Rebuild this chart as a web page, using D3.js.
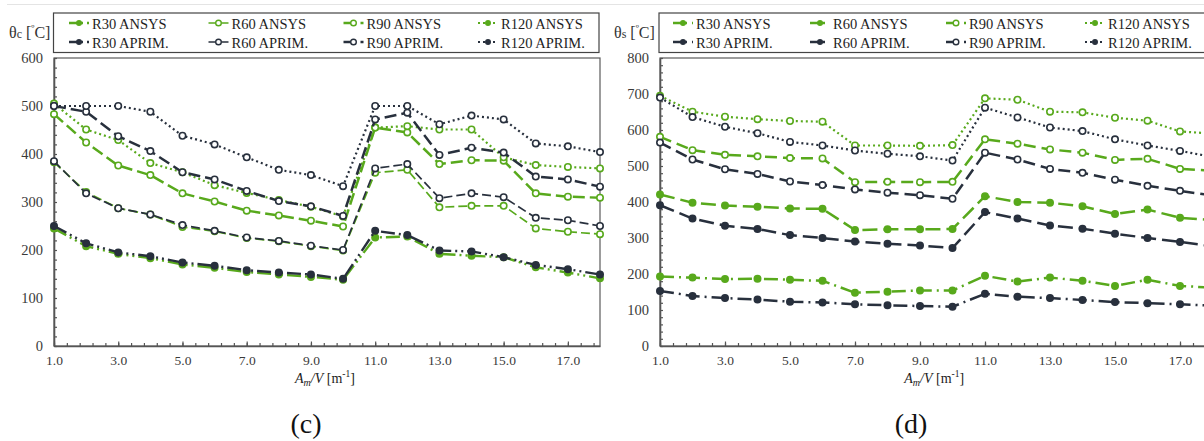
<!DOCTYPE html>
<html><head><meta charset="utf-8">
<script src="https://cdn.jsdelivr.net/npm/d3@7/dist/d3.min.js"></script>
<style>
body{margin:0;background:#fff}
svg{display:block}
text{font-family:"Liberation Serif","Times New Roman",serif}
</style>
</head><body>
<svg id="chart" width="1204" height="441"></svg>
<script>
// ---------- data ----------
const xValues = [1,2,3,4,5,6,7,8,9,10,11,12,13,14,15,16,17,18];
const xTickValues = [1,3,5,7,9,11,13,15,17];
const xTickLabels = ["1.0","3.0","5.0","7.0","9.0","11.0","13.0","15.0","17.0"];
const yTicksC = [0,100,200,300,400,500,600];
const yTicksS = [0,100,200,300,400,500,600,700,800];
const seriesKeys = ["R30","R60","R90","R120"];
const legendLabels = ["R30 ANSYS","R60 ANSYS","R90 ANSYS","R120 ANSYS","R30 APRIM.","R60 APRIM.","R90 APRIM.","R120 APRIM."];

// (c) theta_c
const cR30Ansys  = [245,208,192,183,170,163,154,149,144,138,226,228,192,188,185,164,153,141];
const cR60Ansys  = [383,321,287,274,248,239,225,218,208,199,361,367,289,292,292,245,238,233];
const cR90Ansys  = [483,424,376,356,318,301,282,272,261,249,455,445,379,387,386,318,311,309];
const cR120Ansys = [505,451,429,381,362,335,319,304,290,270,455,458,451,451,393,377,373,370];
const cR30Aprim  = [250,214,195,187,174,167,158,153,149,140,240,231,199,197,185,169,160,149];
const cR60Aprim  = [385,318,287,274,252,240,226,219,209,200,370,379,308,318,310,267,262,250];
const cR90Aprim  = [500,488,437,406,362,347,323,302,291,271,472,486,398,413,403,353,347,332];
const cR120Aprim = [500,500,500,488,438,420,393,367,356,333,500,500,462,480,472,422,416,404];

// (d) theta_s
const sR30Ansys  = [193,190,186,187,184,181,148,151,154,154,195,179,190,181,167,184,167,162];
const sR60Ansys  = [421,398,390,387,382,381,322,324,324,325,416,400,398,388,367,379,356,350];
const sR90Ansys  = [581,544,531,527,522,521,455,456,455,456,574,562,546,537,517,520,492,487];
const sR120Ansys = [695,651,637,630,625,623,557,557,556,558,688,684,651,649,634,626,596,590];
const sR30Aprim  = [153,139,133,129,123,121,116,113,111,109,145,137,133,128,122,119,116,112];
const sR60Aprim  = [391,354,334,325,308,300,290,284,279,272,372,354,335,326,312,300,289,277];
const sR90Aprim  = [565,518,491,478,457,447,435,426,419,409,537,518,492,481,462,445,431,418];
const sR120Aprim = [690,636,609,591,567,557,543,534,527,515,662,635,607,597,574,557,542,525];

// ---------- styles ----------
const GREEN = "#58a91c", DARK = "#28303d";
const styleC = {
  R30: {dash:"14,4,2,4,2,4", w:2.4, hollow:false, legHollow:false},
  R60: {dash:"9,4", w:1.7, hollow:true, legHollow:true},
  R90: {dash:"12,5", w:2.5, hollow:true, legHollow:true},
  R120:{dash:"2,3", w:2.2, hollow:true, legHollow:false}
};
const styleS = {
  R30: {dash:"14,5,2,5", w:2.5, hollow:false, legHollow:false},
  R60: {dash:"15,6", w:2.5, hollow:false, legHollow:false},
  R90: {dash:"12,6", w:2.5, hollow:true, legHollow:true},
  R120:{dash:"2,3", w:2.2, hollow:true, legHollow:false}
};

const svg = d3.select("#chart");
svg.append("line").attr("x1",7).attr("x2",1204).attr("y1",4.5).attr("y2",4.5)
  .attr("stroke","#e4e4e4").attr("stroke-width",1);

function drawPanel(cfg){
  const g = svg.append("g");
  const x = d3.scaleLinear().domain([1,18]).range([cfg.left, cfg.right]);
  const y = d3.scaleLinear().domain([0, cfg.yMax]).range([346, 58]);

  // plot border
  g.append("rect").attr("x",cfg.left).attr("y",58).attr("width",cfg.right-cfg.left).attr("height",288)
    .attr("fill","none").attr("stroke","#5a5a5a").attr("stroke-width",1.2);

  // y axis (ticks inside)
  const yMinor = d3.range(0, cfg.yMax+1, 20);
  g.append("g").attr("transform",`translate(${cfg.left},0)`)
    .call(d3.axisRight(y).tickValues(yMinor).tickSize(3).tickFormat(""))
    .call(a=>{a.select(".domain").remove(); a.selectAll("line").attr("stroke","#555").attr("stroke-width",1.2);});
  g.append("g").attr("transform",`translate(${cfg.left},0)`)
    .call(d3.axisLeft(y).tickValues(cfg.yTicks).tickSize(0).tickPadding(11).tickFormat(d3.format("d")))
    .call(a=>{a.select(".domain").attr("stroke","#555").attr("stroke-width",1.6);
      a.selectAll("text").attr("font-size",14.5).attr("fill","#3a3a3a")
       .attr("font-family","'Liberation Serif',serif");});

  // x axis (ticks inside)
  const xMinor = d3.range(0, 43).map(k=>1+0.4*k).filter(v=>v<=18.001);
  g.append("g").attr("transform",`translate(0,346)`)
    .call(d3.axisTop(x).tickValues(xMinor).tickSize(3).tickFormat(""))
    .call(a=>{a.select(".domain").remove(); a.selectAll("line").attr("stroke","#555").attr("stroke-width",1.2);});
  g.append("g").attr("transform",`translate(0,346)`)
    .call(d3.axisBottom(x).tickValues(xTickValues).tickSize(0).tickPadding(9)
      .tickFormat((d,i)=>xTickLabels[i]))
    .call(a=>{a.select(".domain").attr("stroke","#555").attr("stroke-width",1.6);
      a.selectAll("text").attr("font-size",13.5).attr("fill","#3a3a3a")
       .attr("font-family","'Liberation Serif',serif");});
  g.append("g").attr("transform",`translate(0,346)`)
    .call(d3.axisTop(x).tickValues(xTickValues).tickSize(4.5).tickFormat(""))
    .call(a=>{a.select(".domain").remove(); a.selectAll("line").attr("stroke","#555").attr("stroke-width",1.2);});

  // series
  const line = d3.line().x((d,i)=>x(xValues[i])).y(d=>y(d));
  cfg.series.forEach(s=>{
    const st = cfg.style[s.key];
    const sg = g.append("g");
    sg.append("path").datum(s.values).attr("d",line).attr("fill","none")
      .attr("stroke",s.color).attr("stroke-width",st.w).attr("stroke-dasharray",st.dash)
      .attr("stroke-linecap","butt");
    sg.selectAll("circle").data(s.values).join("circle")
      .attr("cx",(d,i)=>x(xValues[i])).attr("cy",d=>y(d)).attr("r",3.2)
      .attr("fill", st.hollow ? "#fff" : s.color)
      .attr("stroke",s.color).attr("stroke-width",1.6);
  });

  // legend box
  g.append("rect").attr("x",cfg.legX).attr("y",13).attr("width",cfg.legW).attr("height",39.5)
    .attr("fill","#fff").attr("stroke","#444").attr("stroke-width",1.2);
  cfg.series.forEach((s,i)=>{
    const col = i%4, row = Math.floor(i/4);
    const tx = cfg.legCols[col], ty = row===0 ? 28.5 : 47.5;
    const st = cfg.style[s.key];
    const ly = ty-5.5;
    g.append("line").attr("x1",tx-23).attr("x2",tx-3).attr("y1",ly).attr("y2",ly)
      .attr("stroke",s.color).attr("stroke-width",st.w).attr("stroke-dasharray",st.dash);
    g.append("circle").attr("cx",tx-13).attr("cy",ly).attr("r",st.legHollow?2.8:2.3)
      .attr("fill",st.legHollow?"#fff":s.color).attr("stroke",s.color).attr("stroke-width",1.4);
    g.append("text").attr("x",tx).attr("y",ty).attr("font-size",14.5).attr("fill","#1e1e1e")
      .text(legendLabels[i]);
  });

  // y title
  const yt = g.append("text").attr("x",cfg.ytX).attr("y",37.5).attr("font-size",16).attr("fill","#333");
  yt.append("tspan").text("θ");
  yt.append("tspan").attr("font-size",12).text(cfg.sub);
  yt.append("tspan").text(" [");
  yt.append("tspan").attr("font-size",10).attr("dy",-6).text("º");
  yt.append("tspan").attr("dy",6).text("C]");

  // x title
  const cx = (cfg.left + cfg.right)/2 - 2;
  const xt = g.append("text").attr("x",cx).attr("y",383).attr("font-size",14)
    .attr("text-anchor","middle").attr("fill","#222");
  xt.append("tspan").attr("font-style","italic").text("A");
  xt.append("tspan").attr("font-style","italic").attr("font-size",10).attr("dy",3).text("m");
  xt.append("tspan").attr("font-style","italic").attr("dy",-3).text("/V");
  xt.append("tspan").text(" [m");
  xt.append("tspan").attr("font-size",9.5).attr("dy",-6).text("-1");
  xt.append("tspan").attr("dy",6).text("]");

  // panel label
  g.append("text").attr("x",cfg.labX).attr("y",433).attr("font-size",28)
    .attr("text-anchor","middle").attr("fill","#111").text(cfg.label);
}

function seriesList(arrs){
  const colors = [GREEN,GREEN,GREEN,GREEN,DARK,DARK,DARK,DARK];
  return arrs.map((v,i)=>({key:seriesKeys[i%4], values:v, color:colors[i]}));
}

drawPanel({
  left:54, right:600, yMax:600, yTicks:yTicksC, style:styleC,
  series: seriesList([cR30Ansys,cR60Ansys,cR90Ansys,cR120Ansys,cR30Aprim,cR60Aprim,cR90Aprim,cR120Aprim]),
  legX:53.5, legW:545.5, legCols:[92,231.5,366.5,501], ytX:9, sub:"c", label:"(c)", labX:306
});
drawPanel({
  left:660, right:1212.5, yMax:800, yTicks:yTicksS, style:styleS,
  series: seriesList([sR30Ansys,sR60Ansys,sR90Ansys,sR120Ansys,sR30Aprim,sR60Aprim,sR90Aprim,sR120Aprim]),
  legX:659, legW:560, legCols:[696,833,969,1108], ytX:614, sub:"s", label:"(d)", labX:911
});
</script>
</body></html>
